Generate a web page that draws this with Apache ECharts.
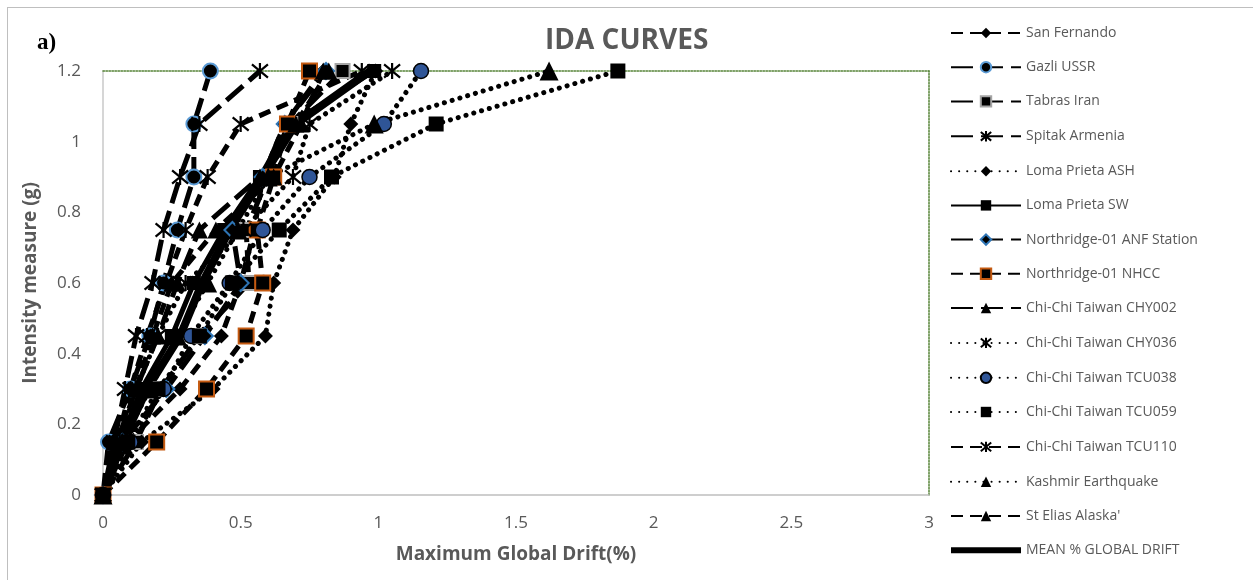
<!DOCTYPE html>
<html>
<head>
<meta charset="utf-8">
<script src="https://cdn.jsdelivr.net/npm/echarts@6/dist/echarts.min.js"></script>
<style>
  html, body { margin: 0; padding: 0; background: #fff; }
  #chart { width: 1253px; height: 580px; }
  #frame { position: absolute; left: 7px; top: 7px; width: 1246px; height: 573px;
           border-left: 1.5px solid #bfbfbf; border-top: 1.5px solid #bfbfbf; pointer-events: none; }
</style>
</head>
<body>
<div id="chart"></div>
<div id="frame"></div>
<script>
// intensity levels (g) – y values shared by every curve
const imLevels = [0, 0.15, 0.3, 0.45, 0.6, 0.75, 0.9, 1.05, 1.2];

// maximum global drift (%), one array per record
const sanFernando   = [0, 0.09, 0.28, 0.43, 0.50, 0.55, 0.58, 0.66, 0.80];
const gazliUssr     = [0, 0.02, 0.10, 0.17, 0.22, 0.27, 0.33, 0.33, 0.39];
const tabrasIran    = [0, 0.12, 0.21, 0.35, 0.53, 0.52, 0.60, 0.68, 0.87];
const spitakArmenia = [0, 0.04, 0.08, 0.12, 0.18, 0.22, 0.28, 0.35, 0.57];
const lomaAsh       = [0, 0.14, 0.40, 0.59, 0.62, 0.69, 0.84, 0.90, 0.99];
const lomaSw        = [0, 0.06, 0.14, 0.25, 0.33, 0.44, 0.57, 0.68, 0.985];
const northAnf      = [0, 0.07, 0.23, 0.37, 0.50, 0.47, 0.58, 0.66, 0.81];
const northNhcc     = [0, 0.195, 0.376, 0.52, 0.58, 0.56, 0.62, 0.67, 0.75];
const chy002        = [0, 0.05, 0.12, 0.20, 0.27, 0.35, 0.57, 0.70, 0.82];
const chy036        = [0, 0.06, 0.12, 0.20, 0.30, 0.51, 0.69, 0.75, 1.05];
const tcu038        = [0, 0.10, 0.22, 0.32, 0.46, 0.58, 0.75, 1.02, 1.155];
const tcu059        = [0, 0.09, 0.20, 0.35, 0.47, 0.64, 0.83, 1.21, 1.87];
const tcu110        = [0, 0.05, 0.10, 0.16, 0.23, 0.30, 0.38, 0.50, 0.94];
const kashmir       = [0, 0.07, 0.17, 0.27, 0.38, 0.49, 0.60, 0.985, 1.62];
const stElias       = [0, 0.04, 0.12, 0.18, 0.25, 0.41, 0.62, 0.72, 0.80];
const meanDrift     = [0, 0.07, 0.16, 0.28, 0.36, 0.46, 0.58, 0.70, 0.97];

const xTicks = { min: 0, max: 3, interval: 0.5 };
const yTicks = { min: 0, max: 1.2, interval: 0.2 };

// line dash patterns (Excel look)
const DASH = [12, 7];
const LONGDASH = [22, 8];
const DOT = [0.1, 8];
const ASTER = 'path://M0,0L10,10M10,0L0,10M5,-1L5,11';

const grey = '#595959';

function curve(name, drift, dash, symbol, size, fill, border, bw) {
  return {
    name: name,
    type: 'line',
    data: drift.map((d, i) => [d, imLevels[i]]),
    symbol: symbol,
    symbolSize: size,
    showAllSymbol: true,
    lineStyle: { color: '#000', width: 5, type: dash, cap: dash === DOT ? 'round' : 'butt' },
    itemStyle: { color: fill, borderColor: border, borderWidth: bw },
    emphasis: { disabled: true },
    animation: false
  };
}

const series = [
  curve('San Fernando', sanFernando, DASH, 'diamond', 15, '#000', '#000', 0),
  curve('Gazli USSR', gazliUssr, LONGDASH, 'circle', 15, '#000', '#5b9bd5', 2),
  curve('Tabras Iran', tabrasIran, LONGDASH, 'rect', 14, '#000', '#a5a5a5', 2),
  curve('Spitak Armenia', spitakArmenia, LONGDASH, ASTER, 16, 'none', '#000', 2.2),
  curve('Loma Prieta ASH', lomaAsh, DOT, 'diamond', 15, '#000', '#000', 0),
  curve('Loma Prieta SW', lomaSw, 'solid', 'rect', 14, '#000', '#000', 0),
  curve('Northridge-01 ANF Station', northAnf, LONGDASH, 'diamond', 16, '#000', '#2e75b6', 2),
  curve('Northridge-01 NHCC', northNhcc, DASH, 'rect', 15, '#000', '#c55a11', 2),
  curve('Chi-Chi Taiwan CHY002', chy002, LONGDASH, 'triangle', 17, '#000', '#000', 0),
  curve('Chi-Chi Taiwan CHY036', chy036, DOT, ASTER, 16, 'none', '#000', 2.2),
  curve('Chi-Chi Taiwan TCU038', tcu038, DOT, 'circle', 15, '#2f5597', '#000', 1.5),
  curve('Chi-Chi Taiwan TCU059', tcu059, DOT, 'rect', 15, '#000', '#000', 0),
  curve('Chi-Chi Taiwan TCU110', tcu110, DASH, ASTER, 16, 'none', '#000', 2.2),
  curve('Kashmir Earthquake', kashmir, DOT, 'triangle', 19, '#000', '#000', 0),
  curve("St Elias Alaska'", stElias, DASH, 'triangle', 17, '#000', '#000', 0),
  {
    name: 'MEAN % GLOBAL DRIFT',
    type: 'line',
    data: meanDrift.map((d, i) => [d, imLevels[i]]),
    symbol: 'none',
    lineStyle: { color: '#000', width: 8 },
    itemStyle: { color: '#000' },
    emphasis: { disabled: true },
    animation: false
  }
];

const legendData = series.map(s => s.name === 'MEAN % GLOBAL DRIFT'
  ? { name: s.name, icon: 'path://M0,0H70V6H0Z' }
  : s.name);

const chart = echarts.init(document.getElementById('chart'));
chart.setOption({
  backgroundColor: '#fff',
  title: [
    { text: 'IDA CURVES', left: 540, top: 22,
      textStyle: { fontFamily: 'Open Sans', fontWeight: 'bold', fontSize: 28, color: grey } },
    { text: 'a)', left: 32, top: 27,
      textStyle: { fontFamily: 'Liberation Serif', fontWeight: 'bold', fontSize: 23, color: '#000' } }
  ],
  legend: {
    orient: 'vertical',
    left: 945,
    top: 21,
    itemWidth: 70,
    itemHeight: 13,
    itemGap: 20.2,
    textStyle: { fontFamily: 'Open Sans', fontSize: 14, color: grey },
    data: legendData
  },
  grid: { left: 103, right: 324, top: 71, bottom: 85 },
  xAxis: [
    {
      type: 'value',
      min: xTicks.min, max: xTicks.max, interval: xTicks.interval,
      name: 'Maximum Global Drift(%)',
      nameLocation: 'middle',
      nameGap: 50,
      nameTextStyle: { fontFamily: 'Open Sans', fontWeight: 'bold', fontSize: 19, color: grey },
      axisLine: { onZero: false, lineStyle: { color: '#bfbfbf', width: 1.5 } },
      axisTick: { show: false },
      splitLine: { show: false },
      axisLabel: { margin: 20, fontFamily: 'Open Sans', fontSize: 17, color: grey }
    },
    {
      type: 'value', position: 'top',
      min: xTicks.min, max: xTicks.max,
      axisLine: { show: true, onZero: false, lineStyle: { color: '#548235', width: 1.5, type: [1.5, 1.5] } },
      axisTick: { show: false }, axisLabel: { show: false }, splitLine: { show: false }
    }
  ],
  yAxis: [
    {
      type: 'value',
      min: yTicks.min, max: yTicks.max, interval: yTicks.interval,
      name: 'Intensity measure (g)',
      nameLocation: 'middle',
      nameGap: 63,
      nameTextStyle: { fontFamily: 'Open Sans', fontWeight: 'bold', fontSize: 19, color: grey },
      axisLine: { show: true, onZero: false, lineStyle: { color: '#c8c8c8', width: 1.5 } },
      axisTick: { show: false },
      splitLine: { show: false },
      axisLabel: { margin: 22, fontFamily: 'Open Sans', fontSize: 17, color: grey }
    },
    {
      type: 'value', position: 'right',
      min: yTicks.min, max: yTicks.max,
      axisLine: { show: true, onZero: false, lineStyle: { color: '#548235', width: 1.5, type: [1.5, 1.5] } },
      axisTick: { show: false }, axisLabel: { show: false }, splitLine: { show: false }
    }
  ],
  series: series
});
</script>
</body>
</html>
